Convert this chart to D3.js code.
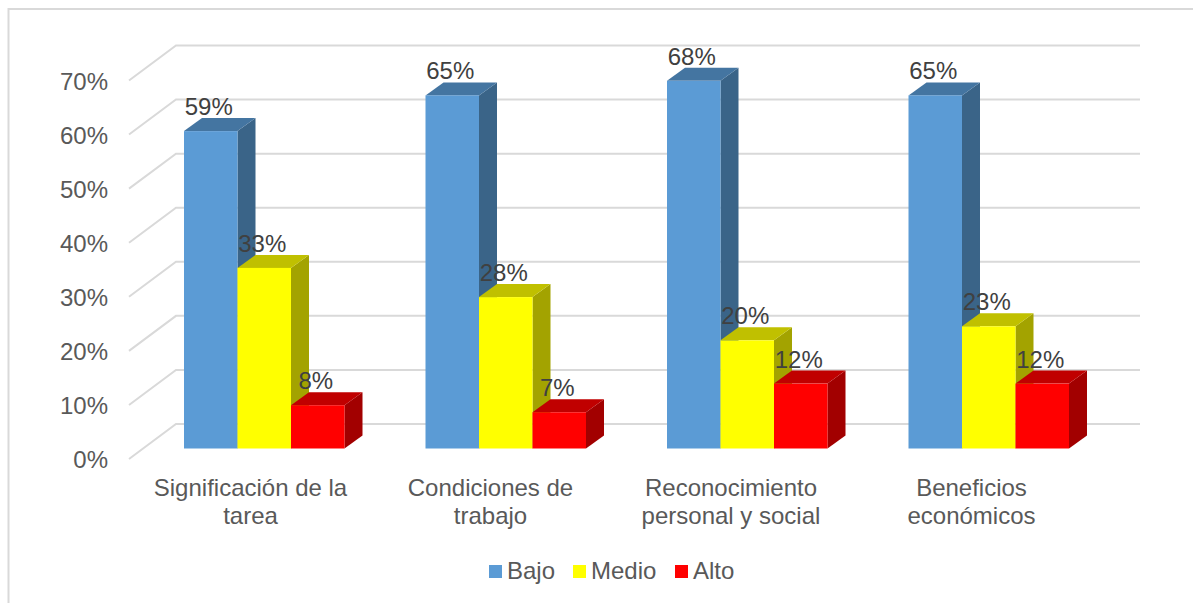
<!DOCTYPE html>
<html><head><meta charset="utf-8">
<script src="https://cdn.jsdelivr.net/npm/d3@7"></script>
<style>html,body{margin:0;background:#fff}svg{display:block}text{font-family:"Liberation Sans",Arial,sans-serif}</style>
</head><body><div id="c"></div>
<script>
const categories=[["Significación de la","tarea"],["Condiciones de","trabajo"],["Reconocimiento","personal y social"],["Beneficios","económicos"]];
const labelX=[250.5,490.5,731,971.5];
const seriesNames=["Bajo","Medio","Alto"];
const bajo=[58.7,65.3,68,65.3];
const medio=[33.4,28,20,22.6];
const alto=[8,6.7,12,12];
const ticks=[0,10,20,30,40,50,60,70];
const colors=["#5b9bd5","#ffff00","#ff0000"];
const topColors=["#4475a1","#c0c000","#c00000"];
const sideColors=["#3a6488","#a3a300","#a20000"];

const W=1193,H=603;
const svg=d3.select("#c").append("svg").attr("width",W).attr("height",H);
svg.append("path").attr("d",`M8.5,603V9H1193`).attr("fill","none").attr("stroke","#d9d9d9").attr("stroke-width",2);

const y=d3.scaleLinear().domain([0,70]).range([448.5,70]);
const depth={dx:18,dy:13};
const wall={x0:129,dx:47,dy:35,x1:1140};
const yBack=d=>y(d)-24.5;
const step=241.5;
const gx=i=>184+i*step;
const barW=53.5;

const grid=svg.append("g");
ticks.forEach(t=>{
  grid.append("path").attr("d",`M${wall.x0},${yBack(t)+wall.dy}L${wall.x0+wall.dx},${yBack(t)}H${wall.x1}`)
   .attr("fill","none").attr("stroke","#d9d9d9").attr("stroke-width",2);
  svg.append("text").attr("x",108).attr("y",yBack(t)+wall.dy+9).attr("text-anchor","end")
   .attr("font-size",24).attr("fill","#595959").text(t+"%");
});

const series=[bajo,medio,alto];
const marks=svg.append("g");
categories.forEach((c,i)=>{
  series.forEach((vals,s)=>{
    const v=vals[i],L=gx(i)+s*barW,R=L+barW,T=y(v),B=y(0);
    const g=marks.append("g");
    g.append("path").attr("d",`M${R},${T}l${depth.dx},${-depth.dy}V${B-depth.dy}l${-depth.dx},${depth.dy}Z`).attr("fill",sideColors[s]);
    g.append("path").attr("d",`M${L},${T}l${depth.dx},${-depth.dy}H${R+depth.dx}l${-depth.dx},${depth.dy}Z`).attr("fill",topColors[s]);
    g.append("rect").attr("x",L).attr("y",T).attr("width",barW).attr("height",B-T).attr("fill",colors[s]);
  });
});
const fmt=d=>d3.format(".0f")(d)+"%";
categories.forEach((c,i)=>{
  series.forEach((vals,s)=>{
    const v=vals[i];
    svg.append("text").attr("x",gx(i)+s*barW+barW/2-2).attr("y",y(v)-16).attr("text-anchor","middle")
      .attr("font-size",24).attr("fill","#404040").text(fmt(v));
  });
  c.forEach((ln,j)=>{
    svg.append("text").attr("x",labelX[i]).attr("y",496+j*27.5).attr("text-anchor","middle")
      .attr("font-size",24).attr("fill","#595959").text(ln);
  });
});
const lx=[489,573,675];
seriesNames.forEach((n,s)=>{
  svg.append("rect").attr("x",lx[s]).attr("y",565).attr("width",13).attr("height",13).attr("fill",colors[s]);
  svg.append("text").attr("x",lx[s]+18).attr("y",579).attr("font-size",24).attr("fill","#595959").text(n);
});
</script></body></html>
